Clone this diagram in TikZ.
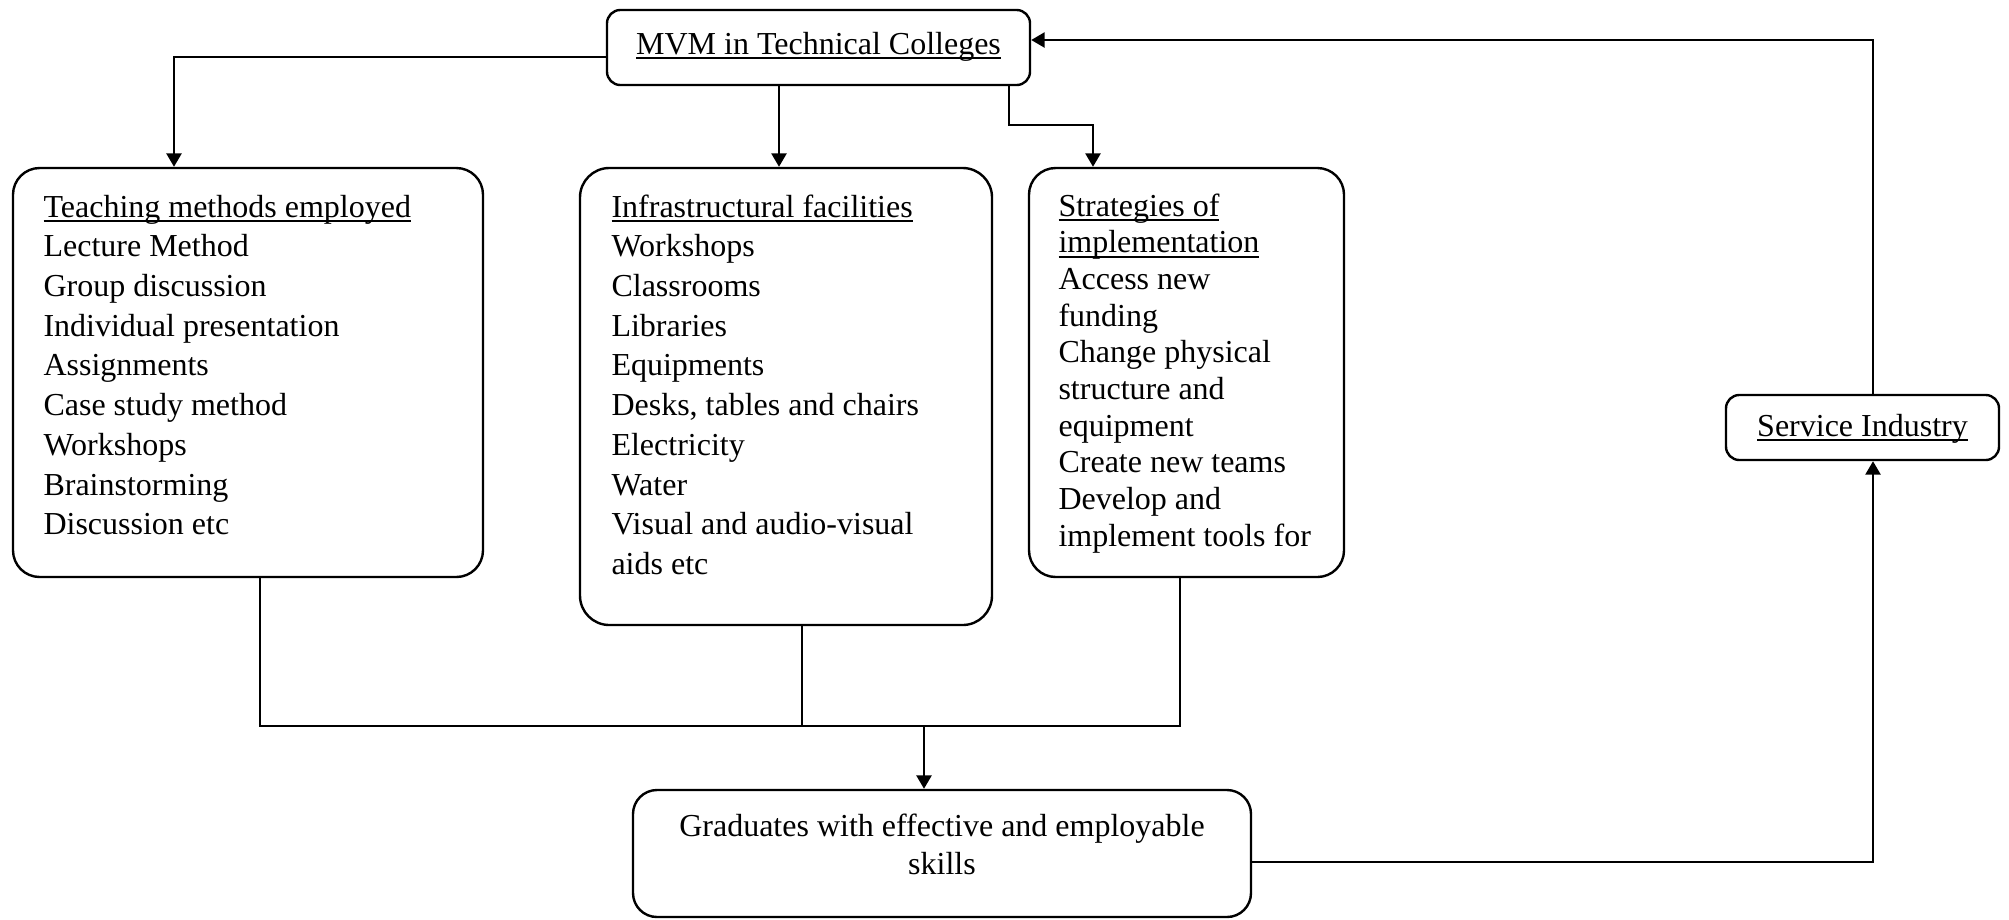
\documentclass[tikz,border=0pt]{standalone}
\usepackage{fontspec}
\setmainfont{Liberation Serif}
\usetikzlibrary{arrows.meta}
\newcommand\ulx[1]{\setbox0\hbox{#1}\rlap{\rule[-1.8pt]{\wd0}{0.6pt}}\box0}
\newcommand\leftlines[2]{\vtop{\baselineskip=#1\lineskiplimit=-20pt\lineskip=0pt\halign{##\hfil\cr#2\crcr}}}
\newcommand\centerlines[2]{\vtop{\baselineskip=#1\lineskiplimit=-20pt\lineskip=0pt\halign{\hfil##\hfil\cr#2\crcr}}}
\begin{document}
\begin{tikzpicture}[x=0.375pt,y=-0.375pt,
  every node/.style={font=\fontsize{12pt}{14.9pt}\selectfont},
  box/.style={draw, line width=0.9pt, rounded corners=#1, inner sep=0pt},
  box/.default=5pt,
  txt/.style={inner sep=0pt},
  arr/.style={line width=0.85pt, -{Triangle[length=5pt,width=5.6pt]}},
  ln/.style={line width=0.6pt}]
\useasboundingbox (0,0) rectangle (2009,919);

% boxes
\node[box=5pt, minimum width=158.63pt, minimum height=28.13pt] (mvm) at (818.5,47.5) {};
\node[box=10pt, minimum width=176.25pt, minimum height=153.38pt] (teach) at (248,372.5) {};
\node[box=11pt, minimum width=154.5pt, minimum height=171.38pt] (infra) at (786,396.5) {};
\node[box=10pt, minimum width=118.13pt, minimum height=153.38pt] (strat) at (1186.5,372.5) {};
\node[box=5pt, minimum width=102.38pt, minimum height=24.38pt] (serv) at (1862.5,427.5) {};
\node[box=9pt, minimum width=231.75pt, minimum height=47.63pt] (grad) at (942,853.5) {};

% texts
\node[txt, anchor=base] (mvmt) at (818.5,54) {\ulx{MVM in Technical Colleges}};
\node[txt, anchor=base west] (teacht) at (43,217) {\leftlines{14.9pt}{\ulx{Teaching methods employed}\cr
Lecture Method\cr Group discussion\cr Individual presentation\cr Assignments\cr
Case study method\cr Workshops\cr Brainstorming\cr Discussion etc}};
\node[txt, anchor=base west] (infrat) at (611,217) {\leftlines{14.9pt}{\ulx{Infrastructural facilities}\cr
Workshops\cr Classrooms\cr Libraries\cr Equipments\cr Desks, tables and chairs\cr
Electricity\cr Water\cr Visual and audio-visual\cr aids etc}};
\node[txt, anchor=base west] (stratt) at (1058,216) {\leftlines{13.76pt}{\ulx{Strategies of}\cr
\ulx{implementation}\cr Access new\cr funding\cr Change physical\cr structure and\cr
equipment\cr Create new teams\cr Develop and\cr implement tools for}};
\node[txt, anchor=base] (servt) at (1862.5,436) {\ulx{Service Industry}};
\node[txt, anchor=base] (gradt) at (942,836) {\centerlines{14.25pt}{Graduates with effective and employable\cr skills}};

% connectors from MVM
\coordinate (c1) at (174,57);
\draw[arr] (mvm.west |- c1) -- (c1) -- (c1 |- teach.north);
\coordinate (c2) at (779,0);
\draw[arr] (c2 |- mvm.south) -- (c2 |- infra.north);
\coordinate (c3) at (1009,125);
\coordinate (c4) at (1093,125);
\draw[arr] (c3 |- mvm.south) -- (c3) -- (c4) -- (c4 |- strat.north);

% feedback loop
\coordinate (c5) at (1873,40);
\draw[arr] (serv.north -| c5) -- (c5) -- (c5 -| mvm.east);
\coordinate (c6) at (1873,862);
\draw[arr] (grad.east |- c6) -- (c6) -- (c6 |- serv.south);

% junction to graduates
\coordinate (j1) at (260,726);
\coordinate (j2) at (802,726);
\coordinate (j3) at (1180,726);
\coordinate (jm) at (924,726);
\draw[ln] (j1 |- teach.south) -- (j1) -- (j3) -- (j3 |- strat.south);
\draw[ln] (j2 |- infra.south) -- (j2);
\draw[arr] (jm) -- (jm |- grad.north);
\end{tikzpicture}
\end{document}
